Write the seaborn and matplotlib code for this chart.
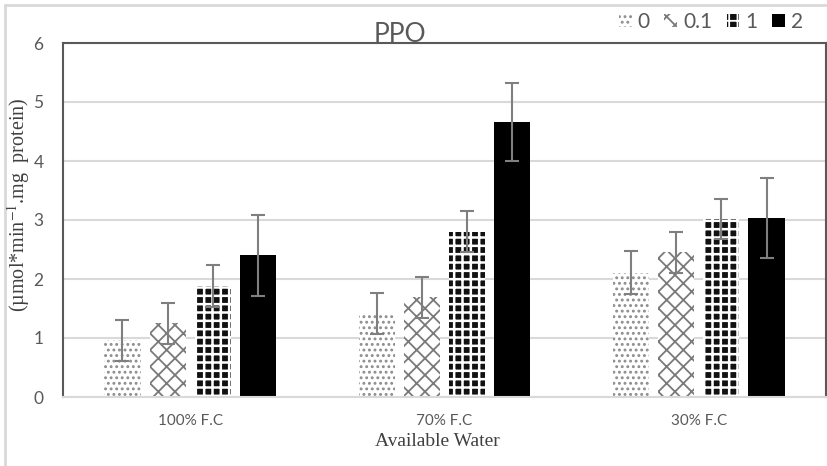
import matplotlib
matplotlib.use("Agg")
import numpy as np
import pandas as pd
import matplotlib.pyplot as plt
import seaborn as sns
from matplotlib.patches import Patch
from matplotlib.lines import Line2D

# -----------------------------
# Data
# -----------------------------
water = ["100% F.C", "70% F.C", "30% F.C"]
doses = ["0", "0.1", "1", "2"]

ppo_0 = [0.96, 1.42, 2.11]
ppo_01 = [1.25, 1.69, 2.45]
ppo_1 = [1.88, 2.80, 3.01]
ppo_2 = [2.40, 4.66, 3.03]

err_0 = [0.35, 0.35, 0.36]
err_01 = [0.35, 0.35, 0.35]
err_1 = [0.36, 0.35, 0.34]
err_2 = [0.69, 0.66, 0.68]

y_ticks = [0, 1, 2, 3, 4, 5, 6]

values = [ppo_0, ppo_01, ppo_1, ppo_2]
errors = [err_0, err_01, err_1, err_2]
df = pd.DataFrame({
    "water": np.tile(water, len(doses)),
    "dose": np.repeat(doses, len(water)),
    "ppo": np.concatenate(values),
    "err": np.concatenate(errors),
})

# bar styles per dose: (face, hatch colour, hatch)
styles = {
    "0": ("white", "#8c8c8c", "..."),
    "0.1": ("white", "#7a7a7a", "xx"),
    "1": ("#111111", "white", "++"),
    "2": ("black", "black", ""),
}

sns.set_style("white")
plt.rcParams["font.family"] = ["Lato", "DejaVu Sans"]
plt.rcParams["hatch.linewidth"] = 1.3
plt.rcParams["mathtext.fontset"] = "stix"

fig = plt.figure(figsize=(8.28, 4.66), dpi=100)
ax = fig.add_axes([63 / 828, 69 / 466, 763 / 828, 354 / 466])

sns.barplot(data=df, x="water", y="ppo", hue="dose", order=water,
            hue_order=doses, errorbar=None, width=0.71, gap=0.2,
            legend=False, ax=ax)

for dose, cont, err in zip(doses, ax.containers, errors):
    face, hcol, hatch = styles[dose]
    xs, ys = [], []
    for bar in cont:
        bar.set_facecolor(face)
        bar.set_edgecolor(hcol)
        bar.set_hatch(hatch)
        bar.set_linewidth(0)
        if dose == "1" and hasattr(bar, "set_hatch_linewidth"):
            bar.set_hatch_linewidth(1.8)
        xs.append(bar.get_x() + bar.get_width() / 2)
        ys.append(bar.get_height())
    ax.errorbar(xs, ys, yerr=err, fmt="none", ecolor="#7f7f7f",
                elinewidth=1.5, capsize=4.7, capthick=1.5, zorder=5)

ax.set_ylim(0, 6)
ax.set_yticks(y_ticks)
ax.set_xlim(-0.5, 2.5)
ax.yaxis.grid(True, color="#d9d9d9", linewidth=1.5)
ax.set_axisbelow(True)
ax.tick_params(axis="y", length=0, pad=14, labelsize=12.5, labelcolor="#595959")
ax.tick_params(axis="x", length=0, pad=12, labelsize=11, labelcolor="#595959")
ax.set_xlabel("")
ax.set_ylabel("")

for side in ["top", "left", "right"]:
    ax.spines[side].set_color("#595959")
    ax.spines[side].set_linewidth(1.5)
ax.spines["bottom"].set_color("#d9d9d9")
ax.spines["bottom"].set_linewidth(1.5)

# titles and labels
fig.text(400 / 828, 1 - 42 / 466, "PPO", ha="center", va="baseline",
         fontsize=19, color="#595959")
fig.text(19 / 828, 1 - 205 / 466, r"(µmol*min$^{-1}$.mg  protein)",
         rotation=90, ha="center", va="center", fontsize=14.5,
         color="#404040", family=["Liberation Serif", "DejaVu Serif"])
fig.text(437 / 828, 1 - 442 / 466, "Available Water", ha="center",
         va="center", fontsize=14, color="#404040",
         family=["Liberation Serif", "DejaVu Serif"])

# legend
handles = []
for dose in doses:
    face, hcol, hatch = styles[dose]
    handles.append(Patch(facecolor=face, edgecolor=hcol, hatch=hatch,
                         linewidth=0))
fig.legend(handles, doses, loc="center right",
           bbox_to_anchor=(822 / 828, 1 - 22 / 466), ncol=4, frameon=False,
           fontsize=15, handlelength=0.6, handleheight=0.6,
           handletextpad=0.3, columnspacing=0.7, labelcolor="#595959")

# light outer border
fig.add_artist(Line2D([5 / 828, 5 / 828], [0, 1 - 5 / 466],
                      color="#d9d9d9", linewidth=2))
fig.add_artist(Line2D([5 / 828, 1], [1 - 5 / 466, 1 - 5 / 466],
                      color="#d9d9d9", linewidth=2))

plt.savefig("out.png", dpi=100)
